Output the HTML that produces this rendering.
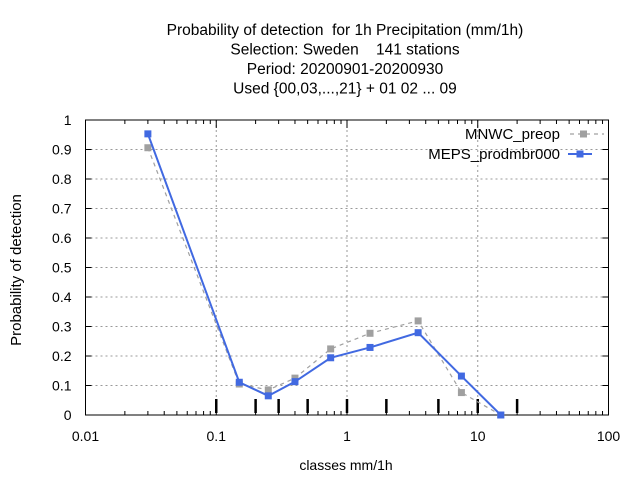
<!DOCTYPE html>
<html><head><meta charset="utf-8"><style>
body{margin:0;background:#fff;}
svg{display:block;font-family:"Liberation Sans",sans-serif;}
</style></head><body>
<svg id="c" width="640" height="480"></svg>
<script>
const xs=[0.03,0.15,0.25,0.4,0.75,1.5,3.5,7.5,15];
const mnwc=[0.906,0.105,0.085,0.125,0.224,0.277,0.319,0.076,0.0];
const meps=[0.953,0.111,0.065,0.113,0.194,0.229,0.279,0.132,0.0];
const yTicks=[0,0.1,0.2,0.3,0.4,0.5,0.6,0.7,0.8,0.9,1];
const xTicks=[0.01,0.1,1,10,100];
const xTickLabels=["0.01","0.1","1","10","100"];
const classBounds=[0.1,0.2,0.3,0.5,1,2,5,10,20];
const L=85.5,R=608.5,T=120,B=415;
const X=v=>L+(Math.log10(v)+2)/4*(R-L);
const Y=v=>B-v*(B-T);
const s=document.getElementById('c');
const NS="http://www.w3.org/2000/svg";
function mk(t,a,p){const e=document.createElementNS(NS,t);for(const k in a)e.setAttribute(k,a[k]);(p||s).appendChild(e);return e;}
function tx(x,y,str,anchor,size){const e=mk('text',{x:x,y:y,'text-anchor':anchor||'middle','font-size':size||14,fill:'#000'});e.textContent=str;return e;}
const title=["Probability of detection  for 1h Precipitation (mm/1h)","Selection: Sweden    141 stations","Period: 20200901-20200930","Used {00,03,...,21} + 01 02 ... 09"];
title.forEach((t,i)=>{const e=tx(345,35+i*19.5,t,'middle',15.5);e.style.whiteSpace='pre';});
yTicks.forEach(v=>{if(v>0&&v<1){const g=mk('line',{x1:L,x2:R,y1:Y(v),y2:Y(v),stroke:'#999','stroke-dasharray':'2,3','stroke-width':1});}
 mk('line',{x1:L,x2:L+6,y1:Y(v),y2:Y(v),stroke:'#000'});mk('line',{x1:R,x2:R-6,y1:Y(v),y2:Y(v),stroke:'#000'});
 const t=tx(L-14,Y(v)+5,String(v),'end',14);});
xTicks.forEach((v,i)=>{if(i>0&&i<xTicks.length-1){const g=mk('line',{x1:X(v),x2:X(v),y1:T,y2:B,stroke:'#999','stroke-dasharray':'2,3'});}
 mk('line',{x1:X(v),x2:X(v),y1:B,y2:B-8,stroke:'#000'});mk('line',{x1:X(v),x2:X(v),y1:T,y2:T+8,stroke:'#000'});
 const t=tx(X(v),B+26,xTickLabels[i],'middle',14);
 if(i<xTicks.length-1)for(let m=2;m<10;m++){const mv=v*m;mk('line',{x1:X(mv),x2:X(mv),y1:B,y2:B-4,stroke:'#000'});mk('line',{x1:X(mv),x2:X(mv),y1:T,y2:T+4,stroke:'#000'});}});
classBounds.forEach(v=>{const l=mk('line',{x1:X(v),x2:X(v),y1:B-16,y2:B-2,stroke:'#000','stroke-width':2.5});});
const fr=mk('rect',{x:L,y:T,width:R-L,height:B-T,fill:'none',stroke:'#000'});
const xl=tx(346,470,'classes mm/1h','middle',14);
const yl=tx(0,0,'Probability of detection','middle',15);yl.setAttribute('transform','translate(21,270) rotate(-90)');
function series(vals,color,dash,w,name){
 const g=mk('g',{});
 mk('polyline',{points:xs.map((x,i)=>X(x)+','+Y(vals[i])).join(' '),fill:'none',stroke:color,'stroke-width':w,'stroke-dasharray':dash},g);
 xs.forEach((x,i)=>{const r=mk('rect',{x:X(x)-3.5,y:Y(vals[i])-3.5,width:7,height:7,fill:color},g);});
}
series(mnwc,'#a0a0a0','4,4',1.2,'series-mnwc-preop');
series(meps,'#4169e1','',2,'series-meps-prodmbr000');
const lg=mk('g',{});
let t1=tx(560,139,'MNWC_preop','end',15);lg.appendChild(t1);
mk('line',{x1:570,x2:604,y1:134,y2:134,stroke:'#a0a0a0','stroke-dasharray':'4,4','stroke-width':1.2},lg);
mk('rect',{x:580,y:130.5,width:7,height:7,fill:'#a0a0a0'},lg);
let t2=tx(560,159,'MEPS_prodmbr000','end',15);lg.appendChild(t2);
mk('line',{x1:568,x2:592,y1:154,y2:154,stroke:'#4169e1','stroke-width':2},lg);
mk('rect',{x:576.5,y:150.5,width:7,height:7,fill:'#4169e1'},lg);
</script>
</body></html>
